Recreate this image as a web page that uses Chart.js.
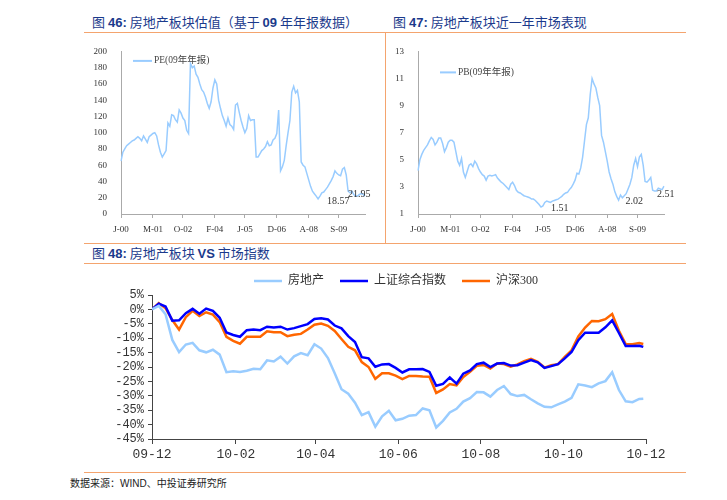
<!DOCTYPE html>
<html>
<head>
<meta charset="utf-8">
<script src="https://cdn.jsdelivr.net/npm/chart.js@4.4.1/dist/chart.umd.min.js"></script>
<style>
  body { margin: 0; background: #fff; width: 727px; height: 500px; position: relative; overflow: hidden;
         font-family: "Noto Sans CJK SC", sans-serif; }
  .ttl { position: absolute; font-size: 13px; line-height: 16px; color: #1b3a8c; white-space: nowrap; }
  .ttl b { font-family: "Liberation Sans", Arial, sans-serif; font-weight: bold; }
  .hr { position: absolute; height: 1px; background: #f4a46e; }
  .vr { position: absolute; width: 1px; background: #f4a46e; }
  canvas { position: absolute; }
  .src { position: absolute; left: 70px; top: 476px; font-size: 10px; line-height: 14px; color: #222; white-space: nowrap; }
  .src span { font-family: "Liberation Sans", Arial, sans-serif; }
</style>
</head>
<body>

<div class="ttl" style="left:92px; top:14px">图 <b>46:</b> 房地产板块估值（基于 <b>09</b> 年年报数据）</div>
<div class="ttl" style="left:393px; top:14px">图 <b>47:</b> 房地产板块近一年市场表现</div>
<div class="hr" style="left:84px; top:32px; width:602px"></div>
<div class="vr" style="left:385px; top:32px; height:211px"></div>
<div class="hr" style="left:84px; top:243px; width:602px"></div>

<canvas id="pe" width="300" height="200" style="left:80px; top:40px"></canvas>
<canvas id="pb" width="300" height="200" style="left:385px; top:40px"></canvas>

<div class="ttl" style="left:92px; top:245px">图 <b>48:</b> 房地产板块 <b>VS</b> 市场指数</div>
<div class="hr" style="left:84px; top:263px; width:602px"></div>

<canvas id="idx" width="620" height="211" style="left:80px; top:259px"></canvas>

<div class="hr" style="left:84px; top:472px; width:602px"></div>
<div class="src">数据来源：<span>WIND</span>、中投证券研究所</div>

<script>
// ---- 图46 / 图47: 月度数据, 2000-01 到 2010-11 ----
const xTicks46 = ['J-00', 'M-01', 'O-02', 'F-04', 'J-05', 'D-06', 'A-08', 'S-09'];
const tickIdx46 = [0, 17, 33, 50, 66, 83, 100, 116];

const months46 = [];
for (let y = 2000; y <= 2010; y++) {
  for (let m = 1; m <= 12; m++) {
    if (y === 2010 && m > 11) break;
    months46.push(y + '-' + String(m).padStart(2, '0'));
  }
}

const pe = [65, 76, 80, 84, 86, 88, 90, 91, 93, 95,
  93, 90, 96, 92, 88, 95, 97, 99, 100, 96,
  85, 76, 70, 74, 78, 112, 108, 122, 121, 116,
  113, 128, 124, 118, 115, 103, 99, 185, 180, 182,
  172, 168, 160, 153, 150, 144, 136, 130, 138, 155,
  165, 160, 140, 130, 121, 115, 108, 118, 110, 108,
  104, 134, 136, 125, 115, 107, 100, 105, 121, 115,
  116, 116, 70, 70, 74, 78, 80, 83, 89, 84,
  85, 91, 93, 99, 128, 53, 58, 66, 84, 100,
  115, 150, 157, 149, 152, 138, 64, 60, 58, 50,
  42, 34, 28, 25, 22, 18.57, 22, 26, 27, 30,
  33, 37, 41, 46, 53, 50, 48, 47, 55, 57,
  48, 28, 26, 28, 24, 22, 22, 24, 25, 24,
  21.95];

const pb = [4.2, 5.0, 5.4, 5.7, 5.9, 6.1, 6.4, 6.65, 6.5, 6.1,
  6.3, 6.6, 6.6, 6.2, 5.6, 5.9, 6.3, 6.45, 6.45, 6.3,
  5.6, 4.9, 4.6, 5.1, 4.1, 3.7, 4.15, 4.6, 4.7, 4.5,
  4.9, 4.7, 4.35, 4.1, 3.9, 3.8, 3.5, 3.8, 3.85, 3.8,
  3.85, 3.9, 3.65, 3.5, 3.35, 3.25, 3.1, 2.95, 2.8, 3.2,
  3.35, 3.1, 2.75, 2.6, 2.55, 2.45, 2.35, 2.3, 2.25, 2.2,
  2.1, 2.1, 2.0, 1.85, 1.7, 1.51, 1.6, 1.85, 1.95, 1.9,
  1.85, 1.95, 2.0, 2.05, 2.1, 2.2, 2.3, 2.45, 2.55, 2.6,
  2.8, 2.95, 3.2, 3.5, 4.0, 3.95, 4.4, 5.2, 6.4, 7.6,
  8.1, 9.8, 11.0, 10.6, 10.3, 9.6, 9.0, 6.8, 6.3, 5.6,
  4.9, 4.1, 3.6, 3.2, 2.65, 2.3, 2.02, 2.4, 2.2, 2.35,
  2.5, 2.85, 3.2, 3.7, 4.6, 5.1, 4.5, 5.2, 5.4, 4.6,
  3.4, 3.35, 3.5, 3.7, 2.75, 2.7, 2.7, 2.9, 2.85, 2.8,
  3.05];

// ---- 图48: 2009-12-01 起的天数, 涨跌幅 % ----
const xTicks48 = ['09-12', '10-02', '10-04', '10-06', '10-08', '10-10', '10-12'];
const tickDays48 = [0, 62, 121, 182, 243, 304, 365];

const days48 = [0, 5, 10, 15, 20, 25, 30, 35, 40, 45, 50, 55, 60, 65, 70, 75, 80, 85, 90, 95,
  100, 105, 110, 115, 120, 125, 130, 135, 140, 145, 150, 155, 160, 165, 170, 175, 180, 185, 190, 195,
  200, 205, 210, 215, 220, 225, 230, 235, 240, 245, 250, 255, 260, 265, 270, 275, 280, 285, 290, 295,
  300, 305, 310, 315, 320, 325, 330, 335, 340, 345, 350, 355, 360, 363];

const fdc = [0, 1.2, -1.7, -10.6, -14.8, -12.2, -11.6, -14.2, -14.9, -14.0,
  -15.7, -21.8, -21.5, -21.7, -21.3, -20.6, -20.8, -17.7, -18.1, -16.4,
  -18.8, -16.3, -15.2, -15.9, -12.1, -13.6, -16.9, -22.2, -27.7, -29.3,
  -32.4, -36.7, -35.7, -40.7, -37.1, -35.2, -38.5, -38.0, -36.9, -36.7,
  -34.4, -35.0, -41.0, -38.7, -35.8, -34.5, -32.0, -30.8, -28.7, -28.8,
  -30.3, -28.0, -26.6, -29.4, -30.1, -29.7, -31.2, -32.6, -33.8, -34.0,
  -33.0, -32.0, -30.7, -26.0, -26.4, -27.0, -25.7, -24.9, -21.8, -28.0,
  -31.9, -32.2, -31.1, -31.0];

const szzs = [0, 2.0, 1.0, -3.9, -3.8, -1.3, 0.2, -1.5, 0.3, -0.5,
  -2.9, -8.0, -8.9, -9.5, -7.2, -7.0, -7.2, -6.0, -6.3, -6.0,
  -7.0, -6.5, -5.8, -5.1, -3.3, -3.1, -3.5, -5.6, -6.6, -9.3,
  -11.3, -16.6, -17.0, -19.9, -19.1, -19.0, -20.3, -21.9, -20.8, -20.8,
  -20.7, -21.7, -26.5, -25.9, -23.6, -25.8, -22.3, -21.2, -19.0, -18.5,
  -20.0, -18.8, -18.6, -19.5, -19.4, -18.5, -17.6, -18.4, -20.3, -19.7,
  -19.0, -17.0, -14.8, -10.7, -8.1, -8.1, -8.1, -6.2, -3.8, -8.2,
  -12.7, -12.7, -12.6, -13.0];

const hs300 = [0, 2.2, 0.4, -3.7, -7.0, -2.7, -0.5, -2.3, -1.0, -1.8,
  -4.4, -9.5, -10.9, -11.9, -9.5, -9.5, -9.5, -7.6, -7.9, -7.9,
  -9.3, -8.8, -8.5, -7.0, -5.3, -4.9, -5.7, -7.5, -10.3, -13.0,
  -14.2, -18.3, -20.0, -24.1, -22.2, -22.2, -23.0, -24.2, -23.1, -23.1,
  -23.3, -23.4, -29.0, -27.8, -25.9, -26.4, -23.5, -21.7, -19.6, -19.3,
  -20.5, -18.8, -19.0, -19.9, -19.1, -18.0, -17.2, -18.2, -20.2, -19.4,
  -19.0, -16.5, -14.2, -9.4, -6.3, -4.0, -4.1, -3.4, -1.6, -7.4,
  -12.0, -12.1, -11.7, -12.0];

const serif = '"Liberation Serif", "Noto Sans CJK SC", serif';
const lightBlue = '#99ccff';

// 图例画在绘图区内部左上角
const innerLegend = {
  id: 'innerLegend',
  afterDraw(chart, args, opts) {
    const { ctx, chartArea } = chart;
    const ds = chart.data.datasets[0];
    const x0 = chartArea.left + opts.x, y0 = chartArea.top + opts.y;
    ctx.save();
    ctx.strokeStyle = ds.borderColor;
    ctx.lineWidth = 2;
    ctx.beginPath();
    ctx.moveTo(x0, y0);
    ctx.lineTo(x0 + opts.len, y0);
    ctx.stroke();
    ctx.fillStyle = '#444';
    ctx.font = '9.5px ' + serif;
    ctx.textBaseline = 'middle';
    ctx.fillText(opts.text, x0 + opts.len + 2, y0);
    ctx.restore();
  }
};

// 数据点旁的数值标注
const pointNotes = {
  id: 'pointNotes',
  afterDatasetsDraw(chart, args, opts) {
    const { ctx, scales } = chart;
    const data = chart.data.datasets[0].data;
    ctx.save();
    ctx.fillStyle = '#333';
    ctx.font = '10px ' + serif;
    ctx.textBaseline = 'middle';
    opts.notes.forEach(n => {
      const px = scales.x.getPixelForValue(n.i);
      const py = scales.y.getPixelForValue(data[n.i]);
      ctx.fillText(n.text, px + n.dx, py + n.dy);
    });
    ctx.restore();
  }
};

function smallChart(id, values, label, yMin, yMax, yStep, yWidth, pad, legendOpts, notes) {
  return new Chart(document.getElementById(id), {
    type: 'line',
    data: {
      labels: months46,
      datasets: [{
        label: label,
        data: values,
        borderColor: lightBlue,
        borderWidth: 1.5,
        pointRadius: 0,
        tension: 0
      }]
    },
    options: {
      responsive: false,
      animation: false,
      layout: { padding: pad },
      plugins: {
        legend: { display: false },
        tooltip: { enabled: false },
        innerLegend: legendOpts,
        pointNotes: { notes: notes }
      },
      scales: {
        x: {
          offset: false,
          afterBuildTicks: s => { s.ticks = tickIdx46.map(v => ({ value: v })); },
          afterFit: s => { s.height = 26; },
          grid: { display: true, drawOnChartArea: false, drawTicks: true, tickLength: 4, color: '#aaa' },
          border: { color: '#aaa' },
          ticks: {
            autoSkip: false, maxRotation: 0, padding: 6,
            color: '#333', font: { family: serif, size: 9 },
            callback: (v, i) => xTicks46[i]
          }
        },
        y: {
          min: yMin, max: yMax,
          afterFit: s => { s.width = yWidth; },
          grid: { display: false },
          border: { display: true, color: '#aaa' },
          ticks: { stepSize: yStep, autoSkip: false, padding: 6, color: '#333', font: { family: serif, size: 9 } }
        }
      }
    },
    plugins: [innerLegend, pointNotes]
  });
}

smallChart('pe', pe, 'PE(09年年报)', 0, 200, 20, 41,
  { top: 8.5, right: 15, left: 0, bottom: 0 },
  { x: 12, y: 9.5, len: 19, text: 'PE(09年年报)' },
  [{ i: 105, text: '18.57', dx: 9, dy: 2 }, { i: 130, text: '21.95', dx: -17, dy: -2 }]);

smallChart('pb', pb, 'PB(09年年报)', 1, 13, 2, 33,
  { top: 8.3, right: 21, left: 0, bottom: 0 },
  { x: 22, y: 21, len: 16, text: 'PB(09年年报)' },
  [{ i: 65, text: '1.51', dx: 10, dy: 1 }, { i: 106, text: '2.02', dx: 7, dy: 1 }, { i: 130, text: '2.51', dx: -7, dy: 8 }]);

// 图48 图例高度固定, 让绘图区顶端对齐; 图例整体稍向右
const legendHeight = {
  id: 'legendHeight',
  beforeInit(chart) {
    if (!chart.legend) return;
    const fit = chart.legend.fit;
    chart.legend.fit = function () {
      fit.bind(chart.legend)();
      this.height = 36;
    };
  },
  afterLayout(chart) {
    if (!chart.legend) return;
    chart.legend.left += 33;
    chart.legend.right += 33;
  }
};

const mk = (vals) => vals.map((v, i) => ({ x: days48[i], y: v }));

new Chart(document.getElementById('idx'), {
  type: 'line',
  data: {
    datasets: [
      { label: '房地产', data: mk(fdc), borderColor: lightBlue, borderWidth: 2.5, pointRadius: 0 },
      { label: '上证综合指数', data: mk(szzs), borderColor: '#0000ff', borderWidth: 2.5, pointRadius: 0 },
      { label: '沪深300', data: mk(hs300), borderColor: '#ff6600', borderWidth: 2.5, pointRadius: 0 }
    ]
  },
  options: {
    responsive: false,
    animation: false,
    layout: { padding: { top: 0, right: 54, left: 0, bottom: 0 } },
    plugins: {
      tooltip: { enabled: false },
      legend: {
        position: 'top',
        labels: {
          usePointStyle: true, pointStyle: 'line', pointStyleWidth: 28,
          padding: 16, color: '#333',
          font: { family: serif, size: 12 }
        }
      }
    },
    scales: {
      x: {
        type: 'linear', min: 0, max: 365,
        afterBuildTicks: s => { s.ticks = tickDays48.map(v => ({ value: v })); },
        afterFit: s => { s.height = 31; },
        grid: { display: true, drawOnChartArea: false, drawTicks: true, tickLength: 5, color: '#444' },
        border: { color: '#444' },
        ticks: {
          autoSkip: false, maxRotation: 0, padding: 3, color: '#333',
          font: { family: '"Liberation Mono", monospace', size: 13 },
          callback: (v, i) => xTicks48[i]
        }
      },
      y: {
        min: -45, max: 5,
        afterFit: s => { s.width = 72; },
        grid: { display: true, drawOnChartArea: false, drawTicks: true, tickLength: 4, color: '#444' },
        border: { color: '#444' },
        ticks: {
          stepSize: 5, autoSkip: false, padding: 4, color: '#333',
          font: { family: '"Liberation Mono", monospace', size: 12 },
          callback: v => v + '%'
        }
      }
    }
  },
  plugins: [legendHeight]
});
</script>
</body>
</html>
